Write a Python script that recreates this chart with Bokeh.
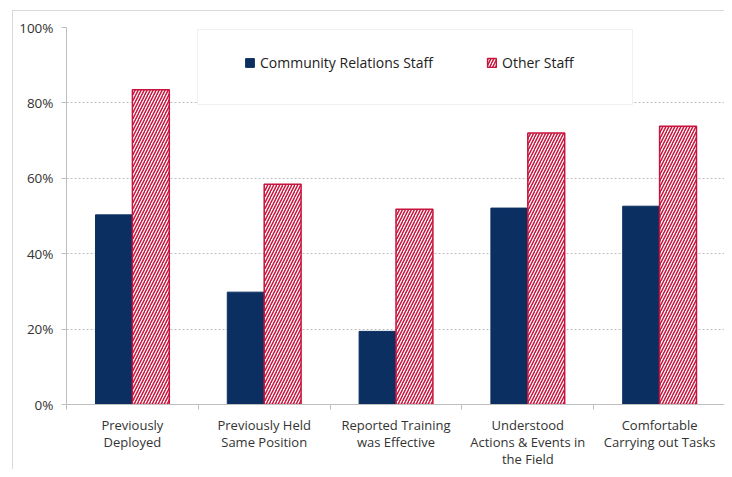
import numpy as np
from bokeh.plotting import figure
from bokeh.models import (Range1d, FixedTicker, NumeralTickFormatter, Legend, LegendItem,
                          BoxAnnotation, ColumnDataSource)
from bokeh.transform import dodge
from bokeh.embed import file_html
from bokeh.resources import INLINE

categories = ["Previously\nDeployed", "Previously Held\nSame Position",
              "Reported Training\nwas Effective", "Understood\nActions & Events in\nthe Field",
              "Comfortable\nCarrying out Tasks"]
community_staff = [0.503, 0.298, 0.194, 0.521, 0.526]
other_staff = [0.835, 0.584, 0.518, 0.720, 0.738]
y_ticks = [0, 0.2, 0.4, 0.6, 0.8, 1.0]

FONT = "Open Sans"
NAVY = "#0c2f62"
RED = "#c8143c"
GREY = "#bfbfbf"

W, H = 712, 459

xs = np.arange(len(categories)) + 0.5
src = ColumnDataSource(dict(x=xs, a=community_staff, b=other_staff))

p = figure(width=W, height=H, x_range=Range1d(0, len(categories)), y_range=Range1d(0, 1),
           output_backend="svg", toolbar_location=None,
           min_border_left=53, min_border_right=0, min_border_top=16, min_border_bottom=55)
p.outline_line_color = None
p.background_fill_color = "white"
p.border_fill_color = "white"
p.styles = {"margin-left": "12px", "margin-top": "10px",
            "border-left": "1.5px solid #d9d9d9", "border-top": "1.5px solid #d9d9d9"}

r1 = p.vbar(x=dodge("x", -0.14, range=p.x_range), top="a", width=0.28, source=src,
            fill_color=NAVY, line_color=NAVY)
r2 = p.vbar(x=dodge("x", 0.14, range=p.x_range), top="b", width=0.28, source=src,
            fill_color="white", line_color=RED, line_width=1.5,
            hatch_pattern="/", hatch_color=RED, hatch_scale=6, hatch_weight=1.5)

# x axis
xa = p.xaxis[0]
xa.ticker = FixedTicker(ticks=list(xs), minor_ticks=list(range(len(categories) + 1)))
xa.major_label_overrides = {float(x): c for x, c in zip(xs, categories)}
xa.major_tick_out = 0
xa.major_tick_in = 0
xa.minor_tick_out = 5
xa.minor_tick_in = 0
xa.minor_tick_line_color = GREY
xa.axis_line_color = GREY
xa.major_label_text_font = FONT
xa.major_label_text_font_size = "13px"
xa.major_label_text_color = "#333333"
xa.major_label_text_line_height = 0.95
xa.major_label_standoff = 6
xa.major_label_orientation = "horizontal"

# y axis
ya = p.yaxis[0]
ya.ticker = FixedTicker(ticks=y_ticks)
ya.formatter = NumeralTickFormatter(format="0%")
ya.major_tick_out = 5
ya.major_tick_in = 0
ya.minor_tick_line_color = None
ya.major_tick_line_color = GREY
ya.axis_line_color = GREY
ya.major_label_text_font = FONT
ya.major_label_text_font_size = "13.5px"
ya.major_label_text_color = "#333333"
ya.major_label_standoff = 8

p.xgrid.grid_line_color = None
p.ygrid.ticker = FixedTicker(ticks=y_ticks[1:])
p.ygrid.grid_line_color = GREY
p.ygrid.grid_line_dash = "2 2"

# legend box
p.add_layout(BoxAnnotation(left=183, right=618, top=17, bottom=92,
                           left_units="canvas", right_units="canvas",
                           top_units="canvas", bottom_units="canvas",
                           fill_color="white", fill_alpha=1, line_color="#d0d0d0",
                           line_width=1, level="annotation"))

legend = Legend(items=[LegendItem(label="Community Relations Staff", renderers=[r1]),
                       LegendItem(label="Other Staff", renderers=[r2])],
                orientation="horizontal", location=(168, 322), spacing=53,
                glyph_width=11, glyph_height=11, label_standoff=5,
                label_text_font=FONT, label_text_font_size="14px", label_text_color="#222222",
                background_fill_alpha=0, border_line_alpha=0, padding=10, margin=0)
p.add_layout(legend, "center")

open("out.html", "w").write(file_html(p, INLINE))
